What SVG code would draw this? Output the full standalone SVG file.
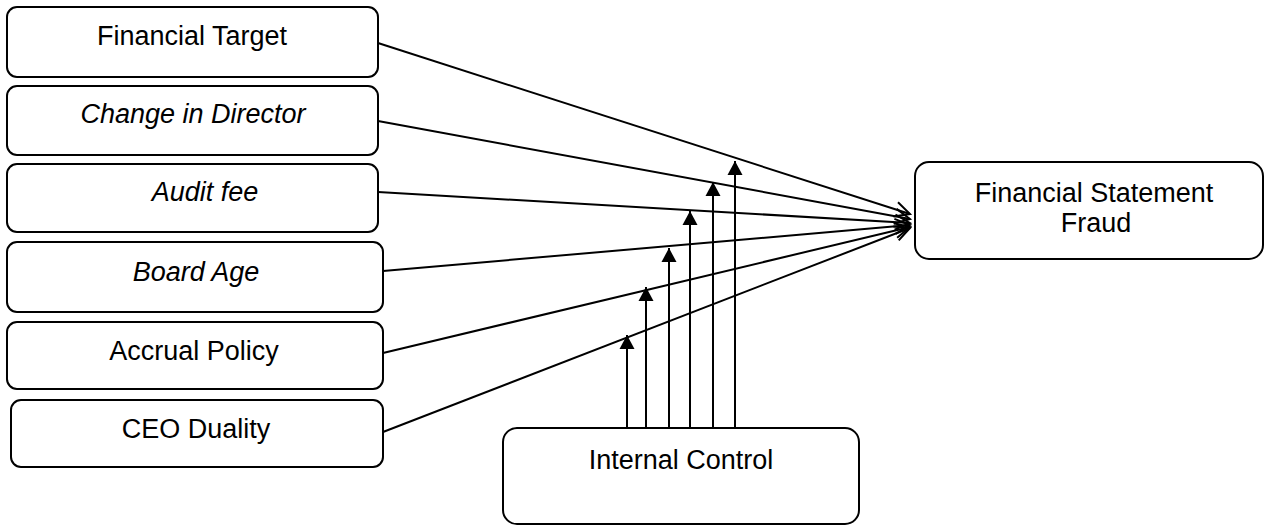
<svg xmlns="http://www.w3.org/2000/svg" width="1268" height="525" viewBox="0 0 1268 525">
<style>
.box{fill:#fff;stroke:#000;stroke-width:2}
.t{font-family:"Liberation Sans",Arial,sans-serif;font-size:27px;fill:#000;text-anchor:middle}
.i{font-style:italic}
.c{stroke:#000;stroke-width:2;fill:none}
</style>
<defs>
<marker id="open" markerUnits="userSpaceOnUse" markerWidth="20" markerHeight="18" refX="16" refY="7.5" orient="auto" overflow="visible">
<path d="M1,0 L16,7.5 L1,15" fill="none" stroke="#000" stroke-width="2"/>
</marker>
<marker id="fill" markerUnits="userSpaceOnUse" markerWidth="16" markerHeight="16" refX="14" refY="7.5" orient="auto" overflow="visible">
<path d="M0,0 L14,7.5 L0,15 z" fill="#000"/>
</marker>
</defs>
<g id="connectors">
<line class="c" x1="378" y1="43" x2="910" y2="214" marker-end="url(#open)"/>
<line class="c" x1="378" y1="121" x2="910" y2="219" marker-end="url(#open)"/>
<line class="c" x1="378" y1="192" x2="910" y2="223" marker-end="url(#open)"/>
<line class="c" x1="383" y1="271" x2="910" y2="225" marker-end="url(#open)"/>
<line class="c" x1="383" y1="353" x2="910" y2="227" marker-end="url(#open)"/>
<line class="c" x1="383" y1="432" x2="910" y2="228" marker-end="url(#open)"/>
<line class="c" x1="627" y1="428" x2="627" y2="335" marker-end="url(#fill)"/>
<line class="c" x1="646" y1="428" x2="646" y2="287" marker-end="url(#fill)"/>
<line class="c" x1="669" y1="428" x2="669" y2="248" marker-end="url(#fill)"/>
<line class="c" x1="690" y1="428" x2="690" y2="211" marker-end="url(#fill)"/>
<line class="c" x1="713" y1="428" x2="713" y2="182" marker-end="url(#fill)"/>
<line class="c" x1="735" y1="428" x2="735" y2="161" marker-end="url(#fill)"/>
</g>
<g id="financial-target"><rect class="box" x="7" y="7" width="371" height="70" rx="10"/><text class="t" x="192" y="45">Financial Target</text></g>
<g id="change-in-director"><rect class="box" x="7" y="86" width="371" height="69" rx="10"/><text class="t i" x="193" y="123">Change in Director</text></g>
<g id="audit-fee"><rect class="box" x="7" y="164" width="371" height="68" rx="10"/><text class="t i" x="205" y="201">Audit fee</text></g>
<g id="board-age"><rect class="box" x="7" y="242" width="376" height="70" rx="10"/><text class="t i" x="196" y="281">Board Age</text></g>
<g id="accrual-policy"><rect class="box" x="7" y="322" width="376" height="67" rx="10"/><text class="t" x="194" y="360">Accrual Policy</text></g>
<g id="ceo-duality"><rect class="box" x="11" y="400" width="372" height="67" rx="10"/><text class="t" x="196" y="438">CEO Duality</text></g>
<g id="financial-statement-fraud"><rect class="box" x="915" y="162" width="348" height="97" rx="14"/><text class="t" x="1094" y="202">Financial Statement</text><text class="t" x="1096" y="232">Fraud</text></g>
<g id="internal-control"><rect class="box" x="503" y="428" width="356" height="96" rx="14"/><text class="t" x="681" y="469">Internal Control</text></g>
</svg>
